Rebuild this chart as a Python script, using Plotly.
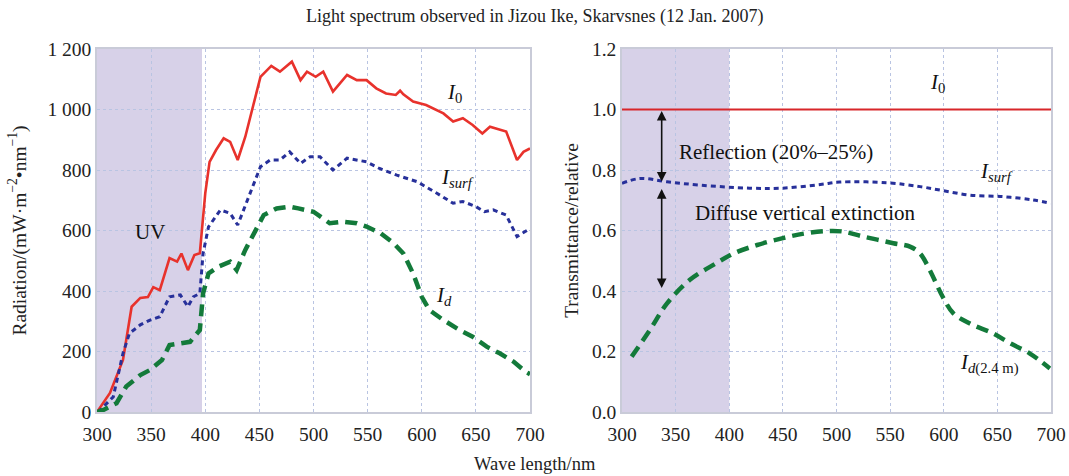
import plotly.graph_objects as go

# ---------------- Data ----------------
# Left panel: radiation spectra (mW m-2 nm-1)
wl_i0 = [300, 312, 324, 332, 340, 347, 352, 358, 367, 374, 378, 384, 390, 395, 400, 404, 410, 417, 423,
         430, 437, 444, 451, 461, 469, 480, 488, 494, 502, 509, 518, 531, 540, 549, 558, 567, 576, 580,
         583, 592, 604, 620, 629, 638, 647, 656, 663, 678, 688, 694, 700]
i0 = [0, 63, 172, 348, 377, 380, 413, 403, 509, 497, 524, 469, 519, 525, 723, 827, 866, 905, 893,
      833, 910, 1009, 1108, 1144, 1125, 1158, 1097, 1125, 1108, 1125, 1059, 1114, 1097, 1097, 1070, 1053, 1048, 1062,
      1050, 1026, 1015, 987, 960, 971, 949, 921, 943, 927, 833, 860, 871]

wl_isurf = [301, 315, 324, 330, 340, 349, 358, 367, 377, 384, 389, 395, 398, 403, 414, 423, 430, 438,
            451, 460, 469, 478, 488, 497, 506, 518, 531, 549, 561, 577, 596, 614, 629, 638, 650, 658,
            666, 678, 688, 698, 700]
isurf = [0, 50, 194, 260, 288, 304, 315, 381, 387, 348, 381, 392, 524, 612, 668, 657, 618, 690,
         811, 833, 833, 860, 822, 844, 844, 800, 839, 827, 805, 783, 761, 723, 690, 696, 679, 662,
         668, 651, 580, 602, 605]

wl_id = [300, 306, 318, 327, 340, 349, 360, 367, 377, 386, 395, 398, 403, 412, 423, 429, 437, 448,
         454, 466, 478, 486, 495, 500, 515, 527, 540, 549, 562, 574, 583, 592, 600, 607, 620, 635,
         647, 660, 672, 685, 696, 700]
i_d = [0, 7, 29, 84, 122, 139, 172, 221, 227, 232, 271, 392, 458, 480, 497, 469, 536, 612,
       651, 673, 679, 673, 668, 662, 624, 629, 624, 613, 591, 558, 524, 458, 381, 337, 304, 271,
       249, 216, 194, 166, 133, 125]

# Right panel: relative transmittance
wl_rel = [300, 700]
i0_rel = [1.0, 1.0]

wl_surf_rel = [300, 317, 342, 373, 419, 450, 485, 503, 547, 578, 599, 624, 655, 683, 700]
surf_rel = [0.756, 0.772, 0.761, 0.750, 0.740, 0.740, 0.752, 0.760, 0.758, 0.745, 0.732, 0.717, 0.712, 0.701, 0.690]

wl_d_rel = [309, 326, 342, 363, 388, 404, 426, 450, 470, 490, 505, 525, 553, 569, 578, 587, 599, 609,
            624, 646, 662, 680, 699]
d_rel = [0.183, 0.271, 0.359, 0.436, 0.492, 0.524, 0.552, 0.575, 0.590, 0.598, 0.597, 0.580, 0.558, 0.546,
         0.524, 0.469, 0.381, 0.326, 0.293, 0.260, 0.227, 0.194, 0.144]

uv_band = [300, 397]
uv_band_rel = [300, 400]

left_yticks = [0, 200, 400, 600, 800, 1000, 1200]
left_yticktext = ["0", "200", "400", "600", "800", "1 000", "1 200"]
right_yticks = [0.0, 0.2, 0.4, 0.6, 0.8, 1.0, 1.2]
right_yticktext = ["0.0", "0.2", "0.4", "0.6", "0.8", "1.0", "1.2"]
xticks = [300, 350, 400, 450, 500, 550, 600, 650, 700]

# arrows (wavelength, top, bottom)
arrow_wl = 337
reflection_arrow = [1.0, 0.762]
extinction_arrow = [0.742, 0.41]

# ---------------- Styles ----------------
FONT = "Liberation Serif, Times New Roman, serif"
RED = "#e8322c"
BLUE = "#27309a"
GREEN = "#137a3a"
SHADE = "rgba(205,198,226,0.8)"
GRID = "#b9c4e2"
FRAME = "#c9cbd8"

fig = go.Figure()

fig.add_trace(go.Scatter(x=wl_i0, y=i0, mode="lines", line=dict(color=RED, width=2.6),
                         xaxis="x", yaxis="y", showlegend=False))
fig.add_trace(go.Scatter(x=wl_isurf, y=isurf, mode="lines", line=dict(color=BLUE, width=3, dash="5px,4px"),
                         xaxis="x", yaxis="y", showlegend=False))
fig.add_trace(go.Scatter(x=wl_id, y=i_d, mode="lines", line=dict(color=GREEN, width=4.5, dash="12px,7px"),
                         xaxis="x", yaxis="y", showlegend=False))

fig.add_trace(go.Scatter(x=wl_rel, y=i0_rel, mode="lines", line=dict(color="#d8262a", width=2),
                         xaxis="x2", yaxis="y2", showlegend=False))
fig.add_trace(go.Scatter(x=wl_surf_rel, y=surf_rel, mode="lines", line=dict(color=BLUE, width=3, dash="5px,4px", shape="spline"),
                         xaxis="x2", yaxis="y2", showlegend=False))
fig.add_trace(go.Scatter(x=wl_d_rel, y=d_rel, mode="lines", line=dict(color=GREEN, width=4.5, dash="12px,7px", shape="spline"),
                         xaxis="x2", yaxis="y2", showlegend=False))

shapes = [
    dict(type="rect", xref="x", yref="y domain", x0=uv_band[0], x1=uv_band[1], y0=0, y1=1,
         fillcolor=SHADE, line=dict(width=0), layer="below"),
    dict(type="rect", xref="x2", yref="y2 domain", x0=uv_band_rel[0], x1=uv_band_rel[1], y0=0, y1=1,
         fillcolor=SHADE, line=dict(width=0), layer="below"),
]

axis_common = dict(showgrid=True, gridcolor=GRID, griddash="dot", gridwidth=1,
                   showline=True, linecolor=FRAME, linewidth=1.5, mirror=True, zeroline=False,
                   automargin=False, ticks="", tickfont=dict(family=FONT, size=19.5, color="#222"))

ann_font = dict(family=FONT, size=21, color="#111")
annotations = [
    dict(text="Light spectrum observed in Jizou Ike, Skarvsnes (12 Jan. 2007)", x=0.5, y=1 - 17 / 476,
         yanchor="middle", xref="paper", yref="paper", showarrow=False, font=dict(family=FONT, size=18, color="#222")),
    dict(text="Wave length/nm", x=0.5, y=1 - 464 / 476, yanchor="middle", xref="paper", yref="paper",
         showarrow=False, font=dict(family=FONT, size=18.5, color="#222")),
    dict(text="UV", x=349, y=595, xref="x", yref="y", showarrow=False, font=ann_font),
    dict(text="<i>I</i><sub>0</sub>", x=630, y=1055, xref="x", yref="y", showarrow=False, font=ann_font),
    dict(text="<i>I<sub>surf</sub></i>", x=633, y=773, xref="x", yref="y", showarrow=False, font=ann_font),
    dict(text="<i>I<sub>d</sub></i>", x=621, y=383, xref="x", yref="y", showarrow=False, font=ann_font),
    dict(text="<i>I</i><sub>0</sub>", x=594, y=1.088, xref="x2", yref="y2", showarrow=False, font=ann_font),
    dict(text="<i>I<sub>surf</sub></i>", x=649, y=0.795, xref="x2", yref="y2", showarrow=False, font=ann_font),
    dict(text="<i>I<sub>d</sub></i><sub>(2.4 m)</sub>", x=643, y=0.16, xref="x2", yref="y2", showarrow=False, font=ann_font),
    dict(text="Reflection (20%\u201325%)", x=351, y=0.86, xref="x2", yref="y2", xanchor="left",
         showarrow=False, font=ann_font),
    dict(text="Diffuse vertical extinction", x=366, y=0.658, xref="x2", yref="y2", xanchor="left",
         showarrow=False, font=ann_font),
    dict(x=arrow_wl, y=reflection_arrow[1], ax=arrow_wl, ay=reflection_arrow[0], xref="x2", yref="y2",
         axref="x2", ayref="y2", text="", showarrow=True, arrowhead=2, arrowside="end+start",
         arrowsize=1.2, arrowwidth=1.6, arrowcolor="#111"),
    dict(x=arrow_wl, y=extinction_arrow[1], ax=arrow_wl, ay=extinction_arrow[0], xref="x2", yref="y2",
         axref="x2", ayref="y2", text="", showarrow=True, arrowhead=2, arrowside="end+start",
         arrowsize=1.2, arrowwidth=1.6, arrowcolor="#111"),
]

y_dom = [(476 - 412) / 476, (476 - 49) / 476]
fig.update_layout(
    width=1069, height=476,
    margin=dict(l=0, r=0, t=0, b=0),
    paper_bgcolor="white", plot_bgcolor="white",
    xaxis=dict(domain=[97 / 1069, 530 / 1069], range=[300, 700], tickvals=xticks, anchor="y",
               ticklabelstandoff=4, **axis_common),
    yaxis=dict(domain=y_dom, range=[0, 1200], tickvals=left_yticks, ticktext=left_yticktext, anchor="x",
               title=dict(text="Radiation/(mW\u00b7m<sup>\u22122</sup>\u2022nm<sup>\u22121</sup>)",
                          font=dict(family=FONT, size=19.5, color="#222"), standoff=16), **axis_common),
    xaxis2=dict(domain=[622 / 1069, 1051 / 1069], range=[300, 700], tickvals=xticks, anchor="y2",
                ticklabelstandoff=4, **axis_common),
    yaxis2=dict(domain=y_dom, range=[0, 1.2], tickvals=right_yticks, ticktext=right_yticktext, anchor="x2",
                title=dict(text="Transmittance/relative", font=dict(family=FONT, size=19.5, color="#222"), standoff=8),
                **axis_common),
    shapes=shapes,
    annotations=annotations,
)

fig.write_html("out.html")
